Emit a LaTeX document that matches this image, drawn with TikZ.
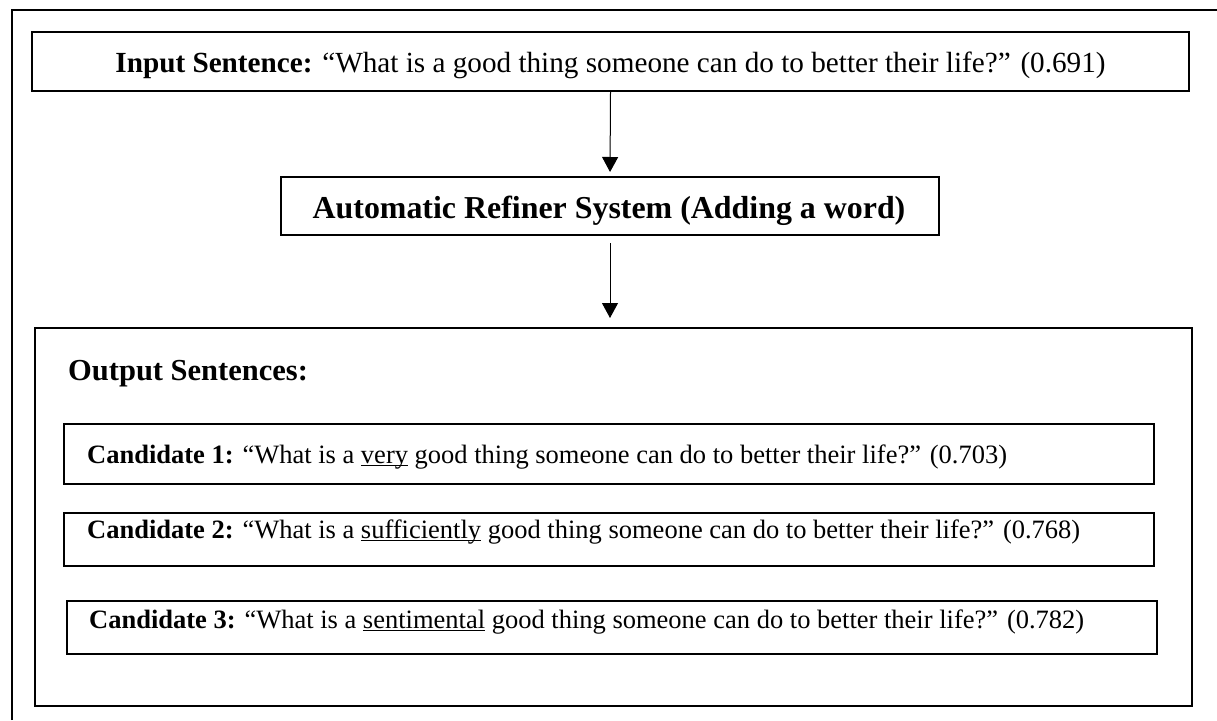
\documentclass[tikz,border=0pt]{standalone}
\usepackage{fontspec}
\setmainfont{Liberation Serif}
\usetikzlibrary{arrows.meta}

% underline set close to the baseline
\newcommand\uword[1]{\setbox0\hbox{#1}\rlap{\rule[-3.2pt]{\wd0}{1.3pt}}\box0\relax}

\begin{document}
\begin{tikzpicture}[x=1pt,y=-1pt,
  box/.style={draw=black,line width=2pt,inner sep=0pt,fill=white},
  conn/.style={draw=black,line width=1pt,-{Triangle[width=16pt,length=15pt]}},
  txt/.style={inner sep=0pt,anchor=base west},
  ctxt/.style={inner sep=0pt,anchor=base}]
\useasboundingbox (0,0) rectangle (1217,720);

% page frame (open on the right and at the bottom)
\draw[line width=2pt] (12,720) -- (12,10) -- (1217,10);

% boxes
\node[box,minimum width=1157pt,minimum height=59pt] (in)  at (610.5,61.5) {};
\node[box,minimum width=658pt, minimum height=58pt] (ref) at (610,206) {};
\node[box,minimum width=1157pt,minimum height=378pt] (out) at (613.5,517) {};
\node[box,minimum width=1090pt,minimum height=60pt] (c1)  at (609,454) {};
\node[box,minimum width=1090pt,minimum height=53pt] (c2)  at (609,539.5) {};
\node[box,minimum width=1090pt,minimum height=53pt] (c3)  at (612,627.5) {};

% texts
\node[ctxt] (intext) at (610.5,72) {\fontsize{29.2}{35}\selectfont
  \textbf{Input Sentence:} “What is a good thing someone can do to better their life?” (0.691)};
\node[ctxt] (reftext) at (609,218) {\fontsize{31.9}{38}\selectfont
  \textbf{Automatic Refiner System (Adding a word)}};
\node[txt] (outtext) at (68,380) {\fontsize{30.5}{36}\selectfont \textbf{Output Sentences:}};
\node[txt] (c1text) at (87,463) {\fontsize{26.5}{32}\selectfont
  \textbf{Candidate 1:} “What is a \uword{very} good thing someone can do to better their life?” (0.703)};
\node[txt] (c2text) at (87,538) {\fontsize{26.5}{32}\selectfont
  \textbf{Candidate 2:} “What is a \uword{sufficiently} good thing someone can do to better their life?” (0.768)};
\node[txt] (c3text) at (89,628) {\fontsize{26.5}{32}\selectfont
  \textbf{Candidate 3:} “What is a \uword{sentimental} good thing someone can do to better their life?” (0.782)};

% connectors
\draw[conn,shorten >=4pt] (in.south) -- (ref.north);
\draw[conn,shorten <=7pt,shorten >=9pt] (ref.south) -- (ref.south |- out.north);
\end{tikzpicture}
\end{document}
